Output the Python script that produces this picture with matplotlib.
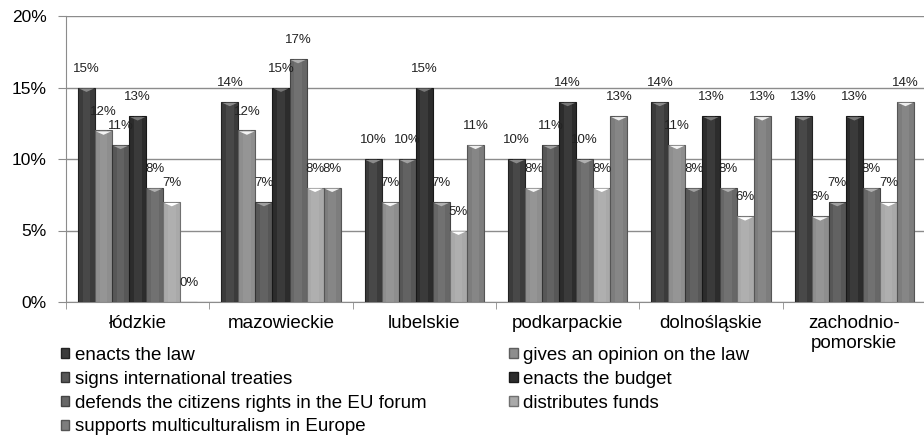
import matplotlib
matplotlib.use("Agg")
import matplotlib.pyplot as plt
import numpy as np
from matplotlib.patches import Patch
from matplotlib.path import Path

plt.rcParams['font.family'] = ['Liberation Sans', 'DejaVu Sans']

categories = ["łódzkie", "mazowieckie", "lubelskie", "podkarpackie",
              "dolnośląskie", "zachodnio-\npomorskie"]
series_names = ["enacts the law", "gives an opinion on the law",
                "signs international treaties", "enacts the budget",
                "defends the citizens rights in the EU forum", "distributes funds",
                "supports multiculturalism in Europe"]
enacts_law = [15, 14, 10, 10, 14, 13]
gives_opinion = [12, 12, 7, 8, 11, 6]
signs_treaties = [11, 7, 10, 11, 8, 7]
enacts_budget = [13, 15, 15, 14, 13, 13]
defends_rights = [8, 17, 7, 10, 8, 8]
distributes_funds = [7, 8, 5, 8, 6, 7]
supports_multicult = [0, 8, 11, 13, 13, 14]
yticks = [0, 5, 10, 15, 20]

series = [enacts_law, gives_opinion, signs_treaties, enacts_budget,
          defends_rights, distributes_funds, supports_multicult]
colors = ["#3b3b3b", "#8e8e8e", "#575757", "#2c2c2c", "#676767", "#a9a9a9", "#7d7d7d"]
edges = ["#222222", "#5e5e5e", "#333333", "#181818", "#444444", "#707070", "#555555"]
tri_colors = ["#8a8a8a", "#f4f4f4", "#a0a0a0", "#777777", "#b0b0b0", "#ffffff", "#eeeeee"]

fig = plt.figure(figsize=(9.24, 4.45), dpi=100)
ax = fig.add_axes([66/924, 1-302/445, 860/924, (302-16)/445])

n = len(series)
bw = 0.119
x = np.arange(len(categories)) + 0.5
tri = Path([(-1, 0), (1, 0), (0, -0.45), (-1, 0)],
           [Path.MOVETO, Path.LINETO, Path.LINETO, Path.CLOSEPOLY])
for k, (vals, c, ec, tc) in enumerate(zip(series, colors, edges, tri_colors)):
    xs = x + (k - (n - 1) / 2) * bw
    ax.bar(xs, vals, width=bw, color=c, edgecolor=ec, linewidth=0.8, zorder=3)
    # lighter centre strip for bevel look
    ax.bar(xs, vals, width=bw * 0.45, color="white", alpha=0.07, linewidth=0, zorder=4)
    nz = [(xx, v) for xx, v in zip(xs, vals) if v > 0]
    if nz:
        ax.scatter([p[0] for p in nz], [p[1] - 0.07 for p in nz], marker=tri, s=120,
                   color=tc, edgecolors='none', zorder=5)
    for xx, v in zip(xs, vals):
        ax.annotate(f"{v}%", (xx, v), xytext=(0, 13.5), textcoords="offset points",
                    ha="center", va="center", fontsize=9.5, color="#222222", zorder=6)

ax.set_xlim(0, len(categories))
ax.set_ylim(0, 20)
ax.set_yticks(yticks)
ax.set_yticklabels([f"{v}%" for v in yticks], fontsize=12.5)
ax.yaxis.grid(True, color="#8c8c8c", linewidth=1)
ax.set_axisbelow(True)
ax.set_xticks(x)
ax.set_xticklabels(categories, fontsize=13.5, va="top", linespacing=1.3)
ax.set_xticks(np.arange(len(categories) + 1), minor=True)
ax.tick_params(axis="x", which="major", length=0, pad=9)
ax.tick_params(axis="x", which="minor", length=5, color="#8c8c8c")
ax.tick_params(axis="y", length=6, color="#8c8c8c", pad=8)
for s in ["top", "right"]:
    ax.spines[s].set_visible(False)
for s in ["left", "bottom"]:
    ax.spines[s].set_color("#8c8c8c")

handles = [Patch(facecolor=c, edgecolor=ec, label=name)
           for c, ec, name in zip(colors, edges, series_names)]
order = [0, 2, 4, 6, 1, 3, 5]
leg = fig.legend(handles=[handles[i] for i in order], ncol=2, loc="upper left",
                 bbox_to_anchor=(61/924, 1-347/445), frameon=False,
                 fontsize=13.5, handlelength=0.45, handleheight=0.45,
                 handletextpad=0.3, labelspacing=0.36, columnspacing=4.4,
                 borderpad=0, borderaxespad=0)

fig.savefig("out.png", dpi=100)
